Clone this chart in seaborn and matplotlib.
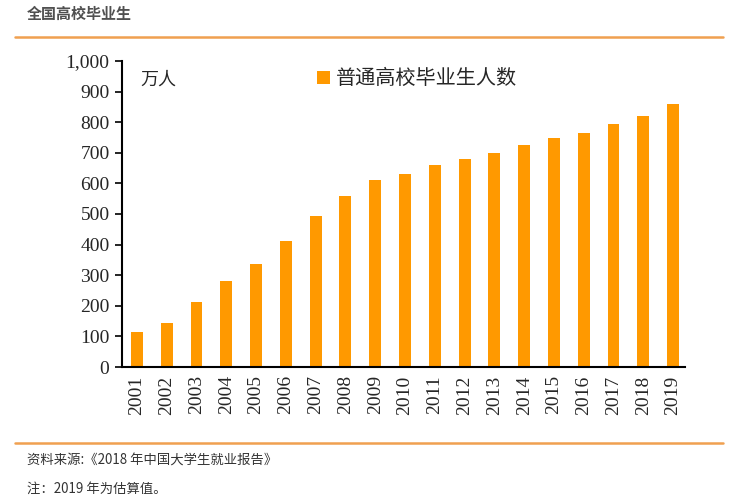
import matplotlib
matplotlib.use("Agg")
import matplotlib.pyplot as plt
import seaborn as sns
import pandas as pd
from matplotlib.lines import Line2D
from matplotlib.patches import Patch

years = ["2001", "2002", "2003", "2004", "2005", "2006", "2007", "2008", "2009", "2010",
         "2011", "2012", "2013", "2014", "2015", "2016", "2017", "2018", "2019"]
graduates = [115, 145, 212, 280, 338, 413, 495, 559, 611, 631,
             660, 680, 699, 727, 749, 765, 795, 820, 859]
yticks = [0, 100, 200, 300, 400, 500, 600, 700, 800, 900, 1000]
ytick_labels = ["0", "100", "200", "300", "400", "500", "600", "700", "800", "900", "1,000"]

sns.set_theme(style="ticks")
plt.rcParams['font.family'] = ['Liberation Serif', 'Noto Sans CJK SC', 'DejaVu Sans']

bar_color = "#FF9900"
line_color = "#F0A050"

df = pd.DataFrame({"year": years, "value": graduates})

fig = plt.figure(figsize=(7.3, 4.97), dpi=100)
ax = fig.add_axes([122/730, 1-367/497, (685-122)/730, (367-61)/497])
sns.barplot(data=df, x="year", y="value", color=bar_color, width=0.4, ax=ax,
            saturation=1, edgecolor="none")

ax.set_xlim(-0.5, 18.4)
ax.set_ylim(0, 1000)
ax.set_yticks(yticks)
ax.set_yticklabels(ytick_labels, fontsize=14)
ax.tick_params(axis="y", direction="out", length=5, width=1.2, color="black", pad=4)
ax.tick_params(axis="x", length=0, pad=6, labelsize=14)
for lbl in ax.get_xticklabels():
    lbl.set_rotation(90)
ax.set_xlabel("")
ax.set_ylabel("")
for s in ["top", "right"]:
    ax.spines[s].set_visible(False)
ax.spines["left"].set_linewidth(1.5)
ax.spines["bottom"].set_linewidth(1.5)
ax.spines["left"].set_color("black")
ax.spines["bottom"].set_color("black")

ax.text(0.032, 0.97, "万人", transform=ax.transAxes, fontsize=13,
        family=['Noto Sans CJK SC'], va="top", ha="left")

leg = ax.legend(handles=[Patch(facecolor=bar_color, edgecolor="none")],
                labels=["普通高校毕业生人数"], loc="upper left",
                bbox_to_anchor=(0.315, 1.035), frameon=False,
                handlelength=0.6, handleheight=0.6, handletextpad=0.3,
                prop={'family': ['Noto Sans CJK SC'], 'size': 14.5})

# header and footer
fig.text(27/730, 1-14/497, "全国高校毕业生", fontsize=10.8, fontweight="bold", color="#505050",
         family=['Noto Sans CJK SC'], va="center", ha="left")
fig.add_artist(Line2D([15/730, 723/730], [1-37/497, 1-37/497], color=line_color, lw=1.8,
                      transform=fig.transFigure))
fig.add_artist(Line2D([15/730, 723/730], [1-443/497, 1-443/497], color=line_color, lw=1.8,
                      transform=fig.transFigure))
fig.text(27/730, 1-461/497, "资料来源:《2018 年中国大学生就业报告》", fontsize=9.6, color="#333333",
         family=['Noto Sans CJK SC', 'DejaVu Sans'], va="center", ha="left")
fig.text(27/730, 1-489/497, "注：2019 年为估算值。", fontsize=9.6, color="#333333",
         family=['Noto Sans CJK SC', 'DejaVu Sans'], va="center", ha="left")

fig.savefig("out.png", dpi=100)
